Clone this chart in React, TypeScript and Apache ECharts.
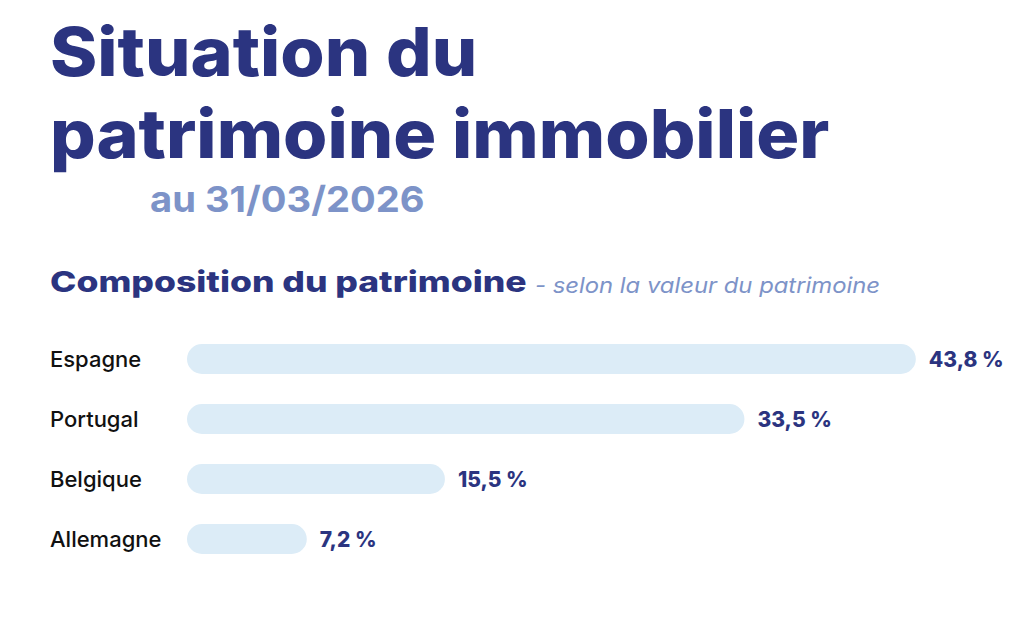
import React, { useEffect, useRef } from "react";
import * as echarts from "echarts";

const countries = ["Espagne", "Portugal", "Belgique", "Allemagne"];
const shares = [43.8, 33.5, 15.5, 7.2];

const titleLines = ["Situation du", "patrimoine immobilier"];
const dateLine = "au 31/03/2026";
const sectionTitle = "Composition du patrimoine";
const sectionNote = "- selon la valeur du patrimoine";

const NAVY = "#2b3480";
const SOFT_BLUE = "#7d93c8";
const BAR = "#dcecf7";
const FONT = "Inter, 'Open Sans', sans-serif";

const fmt = (v: number) => v.toFixed(1).replace(".", ",") + " %";

// Heading text, stretched horizontally to the wide display face of the layout
const heading = (
  text: string,
  x: number,
  y: number,
  font: string,
  fill: string,
  scaleX: number
) => ({
  type: "text",
  x,
  y,
  scaleX,
  style: { text, x: 0, y: 0, fill, font, align: "left", verticalAlign: "top" },
});

export default function App() {
  const ref = useRef<HTMLDivElement>(null);

  useEffect(() => {
    if (!ref.current) return;
    const chart = echarts.init(ref.current, undefined, { renderer: "svg" });
    chart.setOption({
      animation: false,
      backgroundColor: "#ffffff",
      graphic: [
        heading(titleLines[0], 50, 18, `800 67px ${FONT}`, NAVY, 1.07),
        heading(titleLines[1], 50, 100, `800 67px ${FONT}`, NAVY, 1.07),
        heading(dateLine, 150, 181, `700 36px ${FONT}`, SOFT_BLUE, 1.06),
        heading(sectionTitle, 50, 267, `800 29px ${FONT}`, NAVY, 1.225),
        heading(sectionNote, 535, 275, `italic 400 21px ${FONT}`, SOFT_BLUE, 1.135),
      ],
      grid: { left: 187, right: 5, top: 329, height: 240, containLabel: false },
      xAxis: {
        type: "value",
        min: 0,
        max: 50,
        show: false,
      },
      yAxis: {
        type: "category",
        inverse: true,
        data: countries,
        axisLine: { show: false },
        axisTick: { show: false },
        splitLine: { show: false },
        axisLabel: {
          align: "left",
          margin: 137,
          color: "#111111",
          fontSize: 22,
          fontFamily: FONT,
          fontWeight: 500,
        },
      },
      series: [
        {
          type: "bar",
          data: shares,
          barWidth: 30,
          itemStyle: { color: BAR, borderRadius: 15 },
          label: {
            show: true,
            position: "right",
            distance: 13,
            color: NAVY,
            fontSize: 21,
            fontWeight: 800,
            fontFamily: FONT,
            formatter: (p: any) => fmt(p.value),
          },
        },
      ],
    });
    return () => chart.dispose();
  }, []);

  return (
    <div
      ref={ref}
      style={{ position: "absolute", left: 0, top: 0, width: 1024, height: 623 }}
    />
  );
}
